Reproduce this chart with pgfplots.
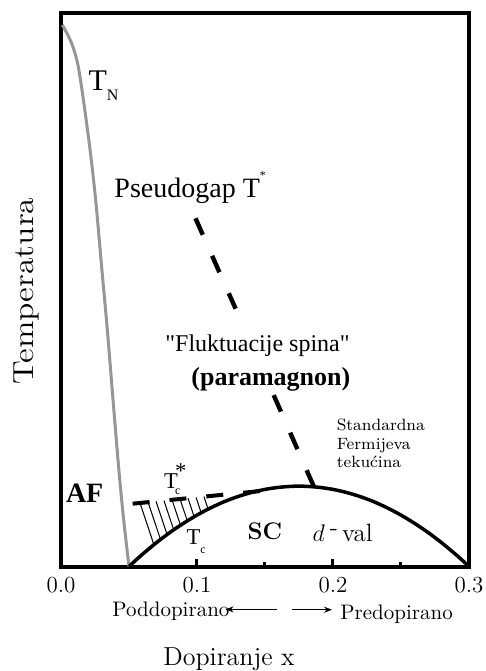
\documentclass[border=0pt]{standalone}
\usepackage{fontspec}
\usepackage{graphicx}
\usepackage{pgfplots}
\pgfplotsset{compat=1.18}
\usetikzlibrary{arrows.meta}
\newfontfamily\tim{Liberation Serif}
\definecolor{tngray}{RGB}{150,150,150}
\begin{document}
\begin{tikzpicture}
\begin{axis}[
  scale only axis, width=204pt, height=277pt,
  xmin=0, xmax=0.3, ymin=0, ymax=1,
  axis line style={line width=2pt},
  clip=false,
  xtick={0,0.1,0.2,0.3}, xticklabels={0.0,0.1,0.2,0.3},
  minor xtick={0.15,0.25},
  xtick pos=bottom, ytick=\empty,
  tick align=inside,
  major tick length=4pt, minor tick length=2.5pt,
  every tick/.style={line width=1.5pt, black},
  xticklabel style={font=\fontsize{11.5}{13}\selectfont, yshift=-4pt, inner sep=1pt},
]
% invisible frame that sets the page size
\path (axis cs:-0.04485,1.0226) rectangle (axis cs:0.3103,-0.1886);

% T_N (Neel temperature)
\addplot[tngray, line width=1.5pt, smooth] coordinates {
(0.0010,0.9775) (0.0045,0.9620) (0.0085,0.9400) (0.0125,0.9050) (0.0165,0.8421) (0.0214,0.7518)
(0.0255,0.6616) (0.0298,0.5435) (0.0341,0.4262) (0.0383,0.2996) (0.0426,0.1731)
(0.0460,0.0865) (0.0500,0.0)};

% superconducting dome T_c
\addplot[black, line width=1.75pt, smooth] coordinates {
(0.050,0) (0.055,0.0114) (0.06,0.0223) (0.07,0.0427) (0.08,0.0613) (0.09,0.0779)
(0.10,0.0928) (0.11,0.1058) (0.12,0.1170) (0.13,0.1262) (0.14,0.1336) (0.15,0.1392)
(0.16,0.1429) (0.17,0.1448) (0.175,0.145) (0.18,0.1448) (0.19,0.1429) (0.20,0.1392)
(0.21,0.1336) (0.22,0.1262) (0.23,0.1170) (0.24,0.1058) (0.25,0.0928) (0.26,0.0779)
(0.27,0.0613) (0.28,0.0427) (0.29,0.0223) (0.295,0.0114) (0.30,0)};

% T_c^* dashed line
\addplot[black, line width=2pt, dash pattern=on 8.5pt off 10pt] coordinates {(0.0527,0.1134) (0.1469,0.1363)};

% hatch lines
\addplot[black, line width=0.5pt] coordinates {(0.0581,0.1147) (0.0683,0.0394)};
\addplot[black, line width=0.5pt] coordinates {(0.0640,0.1162) (0.0732,0.0488)};
\addplot[black, line width=0.5pt] coordinates {(0.0699,0.1176) (0.0780,0.0577)};
\addplot[black, line width=0.5pt] coordinates {(0.0757,0.1190) (0.0829,0.0662)};
\addplot[black, line width=0.5pt] coordinates {(0.0816,0.1204) (0.0879,0.0745)};
\addplot[black, line width=0.5pt] coordinates {(0.0875,0.1219) (0.0929,0.0824)};
\addplot[black, line width=0.5pt] coordinates {(0.0934,0.1233) (0.0979,0.0898)};
\addplot[black, line width=0.5pt] coordinates {(0.0993,0.1248) (0.1031,0.0970)};
\addplot[black, line width=0.5pt] coordinates {(0.1051,0.1262) (0.1082,0.1036)};

% pseudogap T^* dashed line (two pieces, interrupted by the text)
\addplot[black, line width=2.2pt, dash pattern=on 9pt off 11.5pt] coordinates {(0.0989,0.6285) (0.1284,0.4653)};
\addplot[black, line width=2.2pt, dash pattern=on 9pt off 11.5pt] coordinates {(0.1564,0.3094) (0.1859,0.1444)};

% labels inside the plot
\node[anchor=base west, font=\tim\fontsize{15}{17}\selectfont, inner sep=0pt] at (axis cs:0.0200,0.8596)
  {T\raisebox{-5pt}{\fontsize{8}{8}\selectfont N}};
\node[anchor=base west, font=\tim\fontsize{14}{16}\selectfont, inner sep=0pt] at (axis cs:0.0390,0.666)
  {Pseudogap T\raisebox{9pt}{\fontsize{6}{6}\selectfont *}};
\node[anchor=base, font=\tim\fontsize{12}{14}\selectfont, inner sep=0pt] at (axis cs:0.1445,0.3874)
  {"Fluktuacije spina"};
\node[anchor=base, font=\tim\bfseries\fontsize{13}{15}\selectfont, inner sep=0pt] at (axis cs:0.1543,0.3276)
  {(paramagnon)};
\node[anchor=base west, font=\fontsize{8.2}{9.25}\selectfont, inner sep=0pt] at (axis cs:0.2025,0.2451) {Standardna};
\node[anchor=base west, font=\fontsize{8.2}{9.25}\selectfont, inner sep=0pt] at (axis cs:0.2025,0.2108) {Fermijeva};
\node[anchor=base west, font=\fontsize{8.2}{9.25}\selectfont, inner sep=0pt] at (axis cs:0.2025,0.1783) {tekućina};
\node[anchor=base west, font=\tim\bfseries\fontsize{14}{16}\selectfont, inner sep=0pt] at (axis cs:0.0034,0.1164) {AF};
\node[anchor=base west, font=\tim\fontsize{11.3}{13}\selectfont, inner sep=0pt] at (axis cs:0.0756,0.1417)
  {T\hspace{-1.5pt}\rlap{\raisebox{4.8pt}{*}}\raisebox{-3pt}{\fontsize{6}{6}\selectfont c}};
\node[anchor=base west, font=\tim\fontsize{11.3}{13}\selectfont, inner sep=0pt] at (axis cs:0.0921,0.0403)
  {T\raisebox{-4.5pt}{\fontsize{6}{6}\selectfont c}};
\node[anchor=base west, font=\bfseries\fontsize{12}{14}\selectfont, inner sep=0pt] at (axis cs:0.137,0.0482) {SC};
\node[anchor=base west, font=\fontsize{12.5}{14}\selectfont, inner sep=0pt] at (axis cs:0.1848,0.0451)
  {$d$\hspace{2.5pt}\raisebox{3pt}{-}\hspace{2pt}val};

% labels below the axis
\node[anchor=base west, font=\fontsize{10.5}{12}\selectfont, inner sep=0pt] at (axis cs:0.0375,-0.0910) {Poddopirano};
\draw[line width=0.5pt, -{Stealth[length=4pt,width=3pt]}] (axis cs:0.1588,-0.0774) -- (axis cs:0.1210,-0.0774);
\draw[line width=0.5pt, -{Stealth[length=4pt,width=3pt]}] (axis cs:0.1699,-0.0780) -- (axis cs:0.1993,-0.0780);
\node[anchor=base west, font=\fontsize{10.5}{12}\selectfont, inner sep=0pt] at (axis cs:0.2051,-0.0965) {Predopirano};
\node[anchor=base west, font=\fontsize{13}{15}\selectfont, inner sep=0pt] at (axis cs:0.075,-0.178) {Dopiranje x};
\node[rotate=90, font=\fontsize{14.5}{16}\selectfont, inner sep=0pt] at (axis cs:-0.0257,0.4973)
  {\scalebox{1.16}[1]{Temperatura}};
\end{axis}
\end{tikzpicture}
\end{document}
